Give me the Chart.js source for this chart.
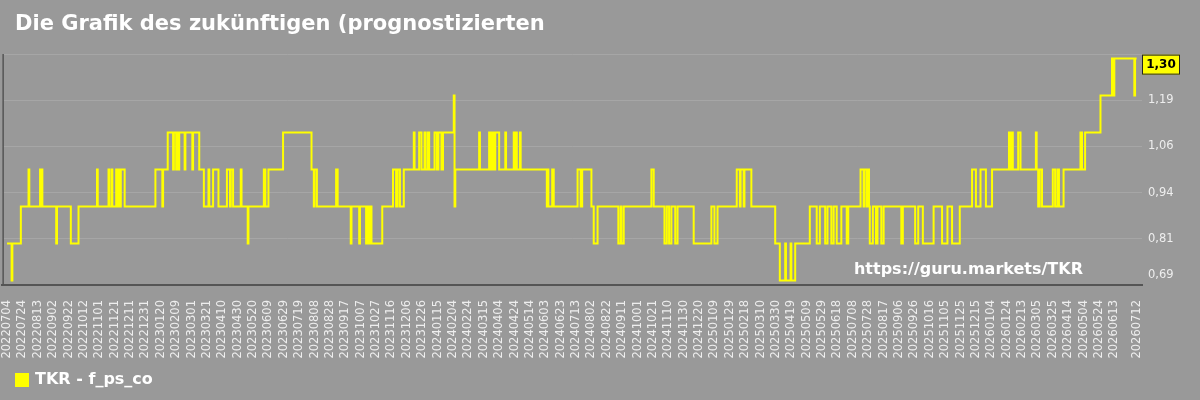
<!DOCTYPE html>
<html>
<head>
<meta charset="utf-8">
<script src="https://cdn.jsdelivr.net/npm/chart.js@4.4.1/dist/chart.umd.min.js"></script>
<style>
  html, body { margin: 0; padding: 0; background: #999999; }
  #wrap { width: 1200px; height: 400px; }
</style>
</head>
<body>
<div id="wrap"><canvas id="chart" width="1200" height="400"></canvas></div>
<script>
const titleText = "Die Grafik des zukünftigen (prognostizierten";
const seriesName = "TKR - f_ps_co";
const watermark = "https://guru.markets/TKR";

const xTickLabels = [
  "20220704", "20220724", "20220813", "20220902", "20220922", "20221012", "20221101", "20221121",
  "20221211", "20221231", "20230120", "20230209", "20230301", "20230321", "20230410", "20230430",
  "20230520", "20230609", "20230629", "20230719", "20230808", "20230828", "20230917", "20231007",
  "20231027", "20231116", "20231206", "20231226", "20240115", "20240204", "20240224", "20240315",
  "20240404", "20240424", "20240514", "20240603", "20240623", "20240713", "20240802", "20240822",
  "20240911", "20241001", "20241021", "20241110", "20241130", "20241220", "20250109", "20250129",
  "20250218", "20250310", "20250330", "20250419", "20250509", "20250529", "20250618", "20250708",
  "20250728", "20250817", "20250906", "20250926", "20251016", "20251105", "20251125", "20251215",
  "20260104", "20260124", "20260213", "20260305", "20260325", "20260414", "20260504", "20260524",
  "20260613", "20260712"
];

const yTickValues = [0.6875, 0.8125, 0.9375, 1.0625, 1.1875, 1.3125];
const yTickLabels = ["0,69", "0,81", "0,94", "1,06", "1,19", ""];

// days since 20220704 where the value changes, and the value from that day on
const stepDays = [
  0, 6, 7, 18, 28, 29, 43, 44, 45, 46, 64, 65, 83, 93, 117, 118, 132, 133, 136, 137,
  142, 143, 145, 147, 148, 153, 193, 202, 203, 209, 216, 217, 220, 221, 223, 224, 231, 232, 241, 242,
  250, 256, 262, 263, 268, 275, 286, 290, 291, 294, 304, 305, 313, 314, 334, 336, 340, 359, 396, 399,
  400, 403, 428, 430, 447, 448, 458, 459, 467, 469, 471, 472, 474, 488, 502, 506, 508, 511, 516, 529,
  530, 536, 539, 543, 544, 547, 549, 556, 559, 561, 565, 567, 581, 582, 583, 614, 615, 627, 628, 629,
  631, 633, 634, 635, 640, 648, 649, 659, 660, 661, 663, 667, 668, 702, 703, 704, 709, 711, 742, 746,
  748, 760, 763, 768, 795, 798, 799, 802, 838, 841, 855, 858, 861, 864, 869, 872, 893, 916, 920, 924,
  949, 953, 954, 958, 959, 968, 999, 1005, 1012, 1013, 1019, 1020, 1025, 1044, 1053, 1057, 1064, 1067, 1072, 1075,
  1079, 1085, 1092, 1094, 1110, 1114, 1115, 1118, 1119, 1121, 1122, 1126, 1130, 1132, 1137, 1140, 1163, 1165, 1181, 1185,
  1191, 1205, 1216, 1223, 1229, 1239, 1255, 1260, 1266, 1273, 1281, 1303, 1305, 1306, 1308, 1315, 1318, 1338, 1339, 1341,
  1343, 1346, 1360, 1363, 1366, 1368, 1374, 1396, 1398, 1402, 1422, 1437, 1438, 1440, 1466, 1467, 1469
];
const stepValues = [
  0.80, 0.70, 0.80, 0.90, 1.00, 0.90, 1.00, 0.90, 1.00, 0.90, 0.80, 0.90, 0.80, 0.90, 1.00, 0.90, 1.00, 0.90, 1.00, 0.90,
  1.00, 0.90, 1.00, 0.90, 1.00, 0.90, 1.00, 0.90, 1.00, 1.10, 1.00, 1.10, 1.00, 1.10, 1.00, 1.10, 1.00, 1.10, 1.00, 1.10,
  1.00, 0.90, 1.00, 0.90, 1.00, 0.90, 1.00, 0.90, 1.00, 0.90, 1.00, 0.90, 0.80, 0.90, 1.00, 0.90, 1.00, 1.10, 1.00, 0.90,
  1.00, 0.90, 1.00, 0.90, 0.80, 0.90, 0.80, 0.90, 0.80, 0.90, 0.80, 0.90, 0.80, 0.90, 1.00, 0.90, 1.00, 0.90, 1.00, 1.10,
  1.00, 1.10, 1.00, 1.10, 1.00, 1.10, 1.00, 1.10, 1.00, 1.10, 1.00, 1.10, 1.20, 0.90, 1.00, 1.10, 1.00, 1.10, 1.00, 1.10,
  1.00, 1.10, 1.00, 1.10, 1.00, 1.10, 1.00, 1.10, 1.00, 1.10, 1.00, 1.10, 1.00, 0.90, 1.00, 0.90, 1.00, 0.90, 1.00, 0.90,
  1.00, 0.90, 0.80, 0.90, 0.80, 0.90, 0.80, 0.90, 1.00, 0.90, 0.80, 0.90, 0.80, 0.90, 0.80, 0.90, 0.80, 0.90, 0.80, 0.90,
  1.00, 0.90, 1.00, 0.90, 1.00, 0.90, 0.80, 0.70, 0.80, 0.70, 0.80, 0.70, 0.80, 0.90, 0.80, 0.90, 0.80, 0.90, 0.80, 0.90,
  0.80, 0.90, 0.80, 0.90, 1.00, 0.90, 1.00, 0.90, 1.00, 0.90, 0.80, 0.90, 0.80, 0.90, 0.80, 0.90, 0.80, 0.90, 0.80, 0.90,
  0.80, 0.90, 0.80, 0.90, 0.80, 0.90, 1.00, 0.90, 1.00, 0.90, 1.00, 1.10, 1.00, 1.10, 1.00, 1.10, 1.00, 1.10, 1.00, 0.90,
  1.00, 0.90, 1.00, 0.90, 1.00, 0.90, 1.00, 1.10, 1.00, 1.10, 1.20, 1.30, 1.20, 1.30, 1.20, 1.30, 1.30
];

const bgColor = "#999999";
const lineColor = "#ffff00";
const textColor = "#eeeeee";

const dayOf = s => (Date.UTC(+s.slice(0, 4), +s.slice(4, 6) - 1, +s.slice(6, 8)) - Date.UTC(2022, 6, 4)) / 86400000;
const xTickDays = xTickLabels.map(dayOf);
const points = stepDays.map((d, i) => ({ x: d, y: stepValues[i] }));
const lastValue = stepValues[stepValues.length - 1];

const decorations = {
  id: "decorations",
  afterDraw(chart) {
    const ctx = chart.ctx;
    const area = chart.chartArea;
    const y = chart.scales.y;
    ctx.save();
    // left border of the plot
    ctx.fillStyle = "#555555";
    ctx.fillRect(area.left, area.top, 1.5, area.bottom - area.top);

    ctx.textBaseline = "middle";
    ctx.fillStyle = "#ffffff";
    ctx.font = "bold 21px 'DejaVu Sans'";
    ctx.textAlign = "left";
    ctx.fillText(titleText, 15, 25);

    ctx.font = "bold 16px 'DejaVu Sans'";
    ctx.textAlign = "right";
    ctx.fillText(watermark, 1083, 270);

    // legend
    ctx.fillStyle = lineColor;
    ctx.fillRect(15, 373, 14, 14);
    ctx.fillStyle = "#ffffff";
    ctx.font = "bold 16px 'DejaVu Sans'";
    ctx.textAlign = "left";
    ctx.fillText(seriesName, 35, 380);

    // y labels
    ctx.font = "11.5px 'DejaVu Sans'";
    ctx.fillStyle = textColor;
    yTickValues.forEach((v, i) => {
      let py = y.getPixelForValue(v);
      if (i === 0) py -= 10;
      ctx.fillText(yTickLabels[i], area.right + 6, py);
    });

    // last value box
    const vy = y.getPixelForValue(lastValue);
    ctx.fillStyle = lineColor;
    ctx.fillRect(area.right, vy - 4, 38, 20);
    ctx.strokeStyle = "#222222";
    ctx.lineWidth = 1;
    ctx.strokeRect(area.right + 0.5, vy - 3.5, 37, 19);
    ctx.fillStyle = "#000000";
    ctx.font = "bold 12px 'DejaVu Sans'";
    ctx.textAlign = "center";
    ctx.fillText(lastValue.toFixed(2).replace(".", ","), area.right + 19, vy + 6.5);
    ctx.restore();
  }
};

new Chart(document.getElementById("chart"), {
  type: "line",
  data: {
    datasets: [{
      label: seriesName,
      data: points,
      stepped: true,
      borderColor: lineColor,
      borderWidth: 2,
      pointRadius: 0,
      fill: false
    }]
  },
  options: {
    responsive: false,
    animation: false,
    devicePixelRatio: 1,
    layout: { padding: { top: 54, left: 0, right: 0, bottom: 0 } },
    plugins: {
      legend: { display: false },
      title: { display: false },
      tooltip: { enabled: false }
    },
    scales: {
      x: {
        type: "linear",
        min: -6,
        max: 1476,
        afterBuildTicks: s => { s.ticks = xTickDays.map(v => ({ value: v })); },
        afterFit: s => { s.height = 115; },
        ticks: {
          autoSkip: false,
          maxRotation: 90,
          minRotation: 90,
          padding: 7,
          color: textColor,
          font: { family: "DejaVu Sans", size: 11.5 },
          callback: (v, i) => xTickLabels[i]
        },
        grid: { display: false },
        border: { display: true, color: "#555555", width: 2 }
      },
      y: {
        position: "right",
        min: 0.6875,
        max: 1.3125,
        afterBuildTicks: s => { s.ticks = yTickValues.map(v => ({ value: v })); },
        afterFit: s => { s.width = 58; },
        ticks: { display: false },
        grid: { color: "#a6a6a6", lineWidth: 1, drawTicks: false },
        border: { display: false }
      }
    }
  },
  plugins: [decorations]
});
</script>
</body>
</html>
